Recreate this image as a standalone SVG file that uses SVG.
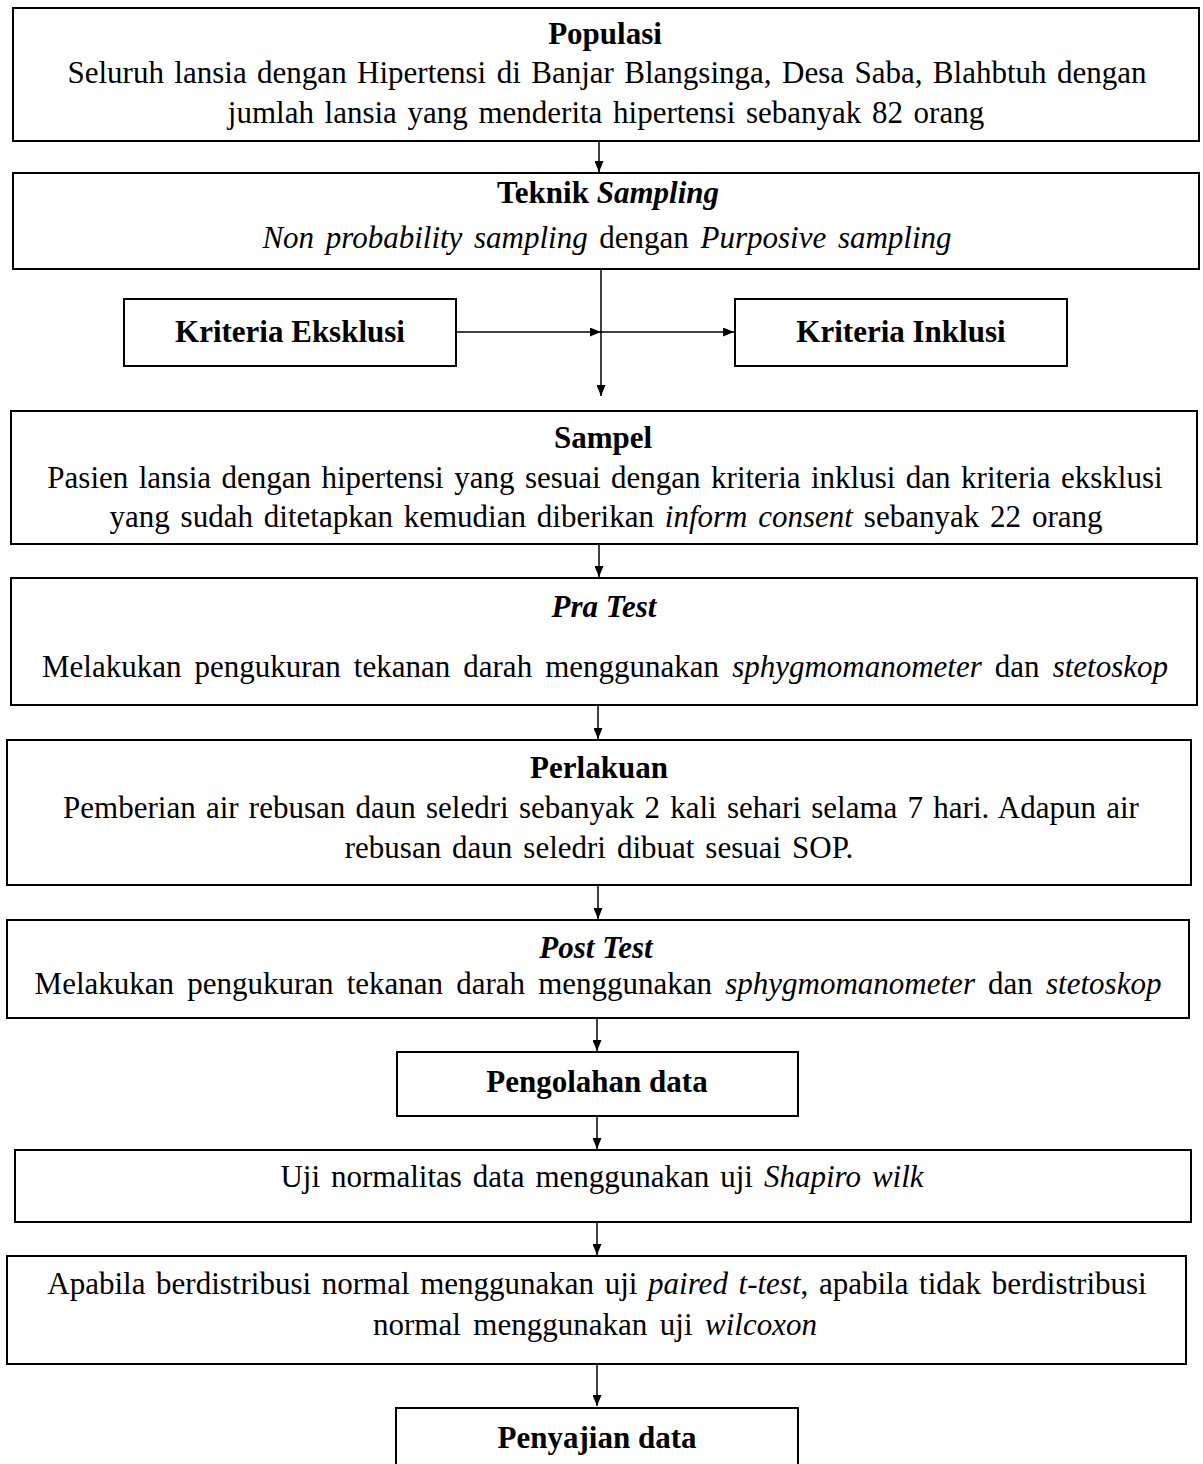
<svg xmlns="http://www.w3.org/2000/svg" width="1203" height="1464" viewBox="0 0 1203 1464">
<defs>
<style>
.box{fill:#fff;stroke:#000;stroke-width:2}
.t{font-family:"Liberation Serif","Times New Roman",serif;font-size:31px;fill:#000;text-anchor:middle}
.b{font-weight:bold}
.i{font-style:italic}
.c{fill:none;stroke:#000;stroke-width:1.5}
</style>
<marker id="ah" markerUnits="userSpaceOnUse" markerWidth="11" markerHeight="9" refX="11" refY="4.5" orient="auto">
<path d="M0,0 L11,4.5 L0,9 z" fill="#000"/>
</marker>
</defs>
<rect width="1203" height="1464" fill="#fff"/>

<g id="connectors">
<line class="c" x1="599" y1="141" x2="599" y2="172" marker-end="url(#ah)"/>
<line class="c" x1="601" y1="269" x2="601" y2="396" marker-end="url(#ah)"/>
<line class="c" x1="456" y1="332" x2="601" y2="332" marker-end="url(#ah)"/>
<line class="c" x1="601" y1="332" x2="734" y2="332" marker-end="url(#ah)"/>
<line class="c" x1="599" y1="544" x2="599" y2="577" marker-end="url(#ah)"/>
<line class="c" x1="598" y1="705" x2="598" y2="739" marker-end="url(#ah)"/>
<line class="c" x1="598" y1="885" x2="598" y2="919" marker-end="url(#ah)"/>
<line class="c" x1="597" y1="1018" x2="597" y2="1051" marker-end="url(#ah)"/>
<line class="c" x1="597" y1="1116" x2="597" y2="1149" marker-end="url(#ah)"/>
<line class="c" x1="597" y1="1222" x2="597" y2="1255" marker-end="url(#ah)"/>
<line class="c" x1="597" y1="1364" x2="597" y2="1406" marker-end="url(#ah)"/>
</g>

<g id="populasi">
<rect class="box" x="13" y="8" width="1186" height="133"/>
<text class="t b" x="605" y="44">Populasi</text>
<text class="t" x="607" y="83" word-spacing="2.7">Seluruh lansia dengan Hipertensi di Banjar Blangsinga, Desa Saba, Blahbtuh dengan</text>
<text class="t" x="606" y="123" word-spacing="2.9">jumlah lansia yang menderita hipertensi sebanyak 82 orang</text>
</g>

<g id="teknik-sampling">
<rect class="box" x="13" y="173" width="1186" height="96"/>
<text class="t b" x="608" y="203">Teknik <tspan class="i">Sampling</tspan></text>
<text class="t" x="607" y="248" word-spacing="3.9"><tspan class="i">Non probability sampling</tspan> dengan <tspan class="i">Purposive sampling</tspan></text>
</g>

<g id="kriteria-eksklusi">
<rect class="box" x="124" y="299" width="332" height="67"/>
<text class="t b" x="290" y="342">Kriteria Eksklusi</text>
</g>

<g id="kriteria-inklusi">
<rect class="box" x="735" y="299" width="332" height="67"/>
<text class="t b" x="901" y="342">Kriteria Inklusi</text>
</g>

<g id="sampel">
<rect class="box" x="11" y="411" width="1186" height="133"/>
<text class="t b" x="603" y="448">Sampel</text>
<text class="t" x="605" y="488" word-spacing="2.7">Pasien lansia dengan hipertensi yang sesuai dengan kriteria inklusi dan kriteria eksklusi</text>
<text class="t" x="606" y="527" word-spacing="3.1">yang sudah ditetapkan kemudian diberikan <tspan class="i">inform consent</tspan> sebanyak 22 orang</text>
</g>

<g id="pra-test">
<rect class="box" x="11" y="578" width="1186" height="127"/>
<text class="t b i" x="604" y="617">Pra Test</text>
<text class="t" x="605" y="677" word-spacing="5.3">Melakukan pengukuran tekanan darah menggunakan <tspan class="i">sphygmomanometer</tspan> dan <tspan class="i">stetoskop</tspan></text>
</g>

<g id="perlakuan">
<rect class="box" x="7" y="740" width="1184" height="145"/>
<text class="t b" x="599" y="778">Perlakuan</text>
<text class="t" x="601" y="818" word-spacing="2.5">Pemberian air rebusan daun seledri sebanyak 2 kali sehari selama 7 hari. Adapun air</text>
<text class="t" x="599" y="858" word-spacing="3.2">rebusan daun seledri dibuat sesuai SOP.</text>
</g>

<g id="post-test">
<rect class="box" x="7" y="920" width="1182" height="98"/>
<text class="t b i" x="596" y="958">Post Test</text>
<text class="t" x="598" y="994" word-spacing="5.4">Melakukan pengukuran tekanan darah menggunakan <tspan class="i">sphygmomanometer</tspan> dan <tspan class="i">stetoskop</tspan></text>
</g>

<g id="pengolahan-data">
<rect class="box" x="397" y="1052" width="401" height="64"/>
<text class="t b" x="597" y="1092">Pengolahan data</text>
</g>

<g id="uji-normalitas">
<rect class="box" x="15" y="1150" width="1176" height="72"/>
<text class="t" x="602" y="1187" word-spacing="3.2">Uji normalitas data menggunakan uji <tspan class="i">Shapiro wilk</tspan></text>
</g>

<g id="uji-hipotesis">
<rect class="box" x="7" y="1256" width="1179" height="108"/>
<text class="t" x="597" y="1294" word-spacing="2.9">Apabila berdistribusi normal menggunakan uji <tspan class="i">paired t-test</tspan>, apabila tidak berdistribusi</text>
<text class="t" x="595" y="1335" word-spacing="4.8">normal menggunakan uji <tspan class="i">wilcoxon</tspan></text>
</g>

<g id="penyajian-data">
<rect class="box" x="396" y="1408" width="402" height="70"/>
<text class="t b" x="597" y="1448">Penyajian data</text>
</g>
</svg>
